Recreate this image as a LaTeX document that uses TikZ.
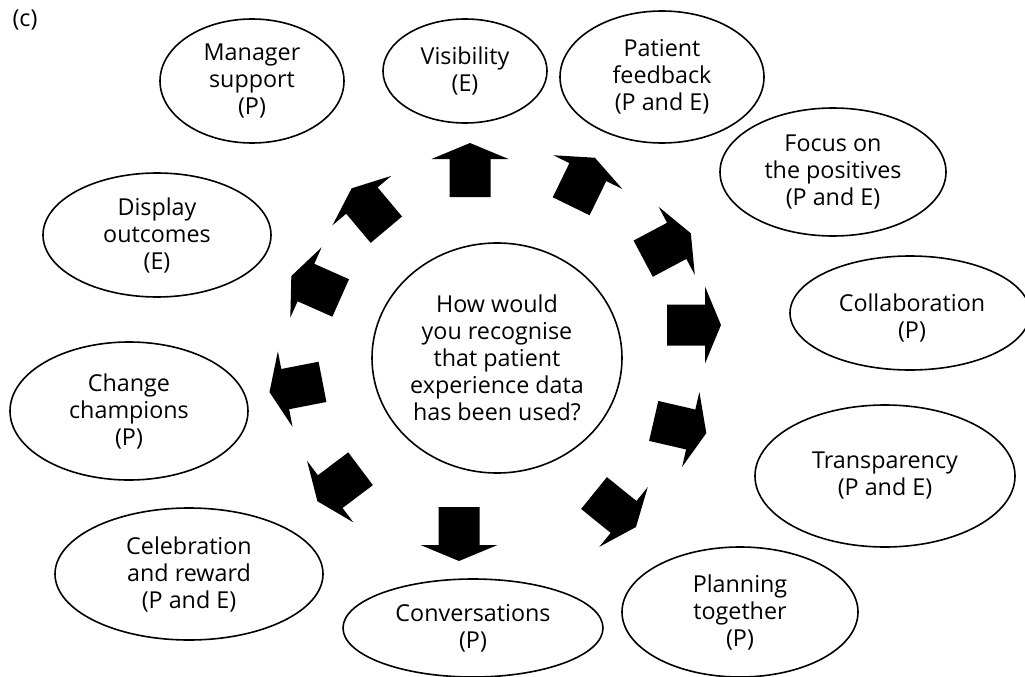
\documentclass[tikz,border=0pt]{standalone}
\usepackage{fontspec}
\setmainfont{Open Sans}
\usetikzlibrary{shapes.geometric}
\tikzset{
  bubble/.style={draw=black, line width=1.6pt, ellipse, inner sep=0pt, align=center,
    font=\fontsize{23.3}{27}\selectfont, fill=white},
  bigarrow/.style={fill=black, draw=none},
}
\begin{document}
\begin{tikzpicture}[x=1pt, y=-1pt]
\useasboundingbox (0,0) rectangle (1025,677);
\fill[white] (0,0) rectangle (1025,677);

\node[anchor=base west, font=\fontsize{23.3}{27}\selectfont] (label) at (9,27) {(c)};

\node[bubble, minimum width=250, minimum height=230] (centre) at (497,358)
  {How would\\you recognise\\that patient\\experience data\\has been used?};

\node[bubble, minimum width=184, minimum height=124] (manager) at (252,81) {Manager\\support\\(P)};
\node[bubble, minimum width=164, minimum height=104] (visibility) at (465,71) {Visibility\\(E)};
\node[bubble, minimum width=204, minimum height=132] (feedback) at (662,77) {Patient\\feedback\\(P and E)};
\node[bubble, minimum width=226, minimum height=128] (focus) at (833,172) {Focus on\\the positives\\(P and E)};
\node[bubble, minimum width=228, minimum height=124] (display) at (157,235) {Display\\outcomes\\(E)};
\node[bubble, minimum width=238, minimum height=138] (champions) at (129,411) {Change\\champions\\(P)};
\node[bubble, minimum width=240, minimum height=114] (collab) at (910,313) {};
\node[font=\fontsize{23.3}{27}\selectfont, align=center, inner sep=0pt] (collabtext) at (912,318) {Collaboration\\(P)};
\node[bubble, minimum width=260, minimum height=142] (transp) at (885,476) {Transparency\\(P and E)};
\node[bubble, minimum width=236, minimum height=130] (planning) at (740,612) {Planning\\together\\(P)};
\node[bubble, minimum width=260, minimum height=98] (convers) at (473,628) {Conversations\\(P)};
\node[bubble, minimum width=268, minimum height=132] (celebr) at (189,574) {Celebration\\and reward\\(P and E)};

\foreach \cx/\cy/\ang in {470/170/90, 583/182/64, 667/246/28, 694/325/0, 680/427/-13,
  615/510/-39, 459/534/-90, 339/485/217, 296/387/191, 316/287/156, 369/209/130}{
  \fill[bigarrow, shift={(\cx,\cy)}, rotate=\ang]
    (-27,-20.5) -- (11,-20.5) -- (11,-38.5) -- (27,0) -- (11,38.5) -- (11,20.5) -- (-27,20.5) -- cycle;
}
\end{tikzpicture}
\end{document}
